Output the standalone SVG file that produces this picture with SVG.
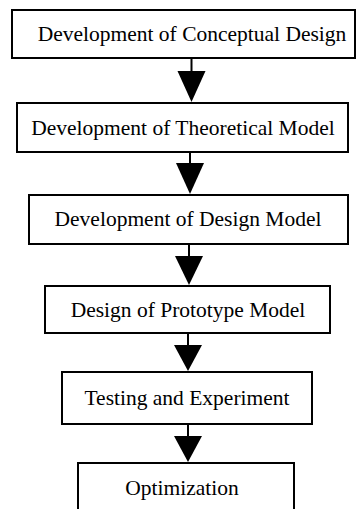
<svg xmlns="http://www.w3.org/2000/svg" width="362" height="509" viewBox="0 0 362 509">
  <style>
    .box { fill: #ffffff; stroke: #000000; stroke-width: 2; }
    .label { font-size: 21.5px; fill: #000000; text-anchor: middle; }
    .stem { stroke: #000000; stroke-width: 2; fill: none; }
    .head { fill: #000000; stroke: none; }
  </style>
  <rect x="0" y="0" width="362" height="509" fill="#ffffff"/>

  <g id="connectors">
    <line class="stem" x1="191.5" y1="58" x2="191.5" y2="72"/>
    <polygon class="head" points="177.5,71 205.5,71 191.5,102"/>
    <line class="stem" x1="190" y1="152" x2="190" y2="164"/>
    <polygon class="head" points="176,163 204,163 190,194"/>
    <line class="stem" x1="189" y1="244" x2="189" y2="257"/>
    <polygon class="head" points="175,256 203,256 189,285"/>
    <line class="stem" x1="188" y1="333" x2="188" y2="346"/>
    <polygon class="head" points="174,345 202,345 188,371"/>
    <line class="stem" x1="188" y1="424" x2="188" y2="437"/>
    <polygon class="head" points="174,436 202,436 188,462"/>
  </g>

  <g font-family="Liberation Serif, Times New Roman, serif">
    <g id="node-conceptual-design">
      <rect class="box" x="12" y="10" width="343" height="48"/>
      <text class="label" x="192" y="41">Development of Conceptual Design</text>
    </g>
    <g id="node-theoretical-model">
      <rect class="box" x="17" y="103" width="331" height="49"/>
      <text class="label" x="183" y="135">Development of Theoretical Model</text>
    </g>
    <g id="node-design-model">
      <rect class="box" x="29" y="195" width="319" height="49"/>
      <text class="label" x="188" y="226">Development of Design Model</text>
    </g>
    <g id="node-prototype-model">
      <rect class="box" x="45" y="286" width="285" height="47"/>
      <text class="label" x="188" y="317">Design of Prototype Model</text>
    </g>
    <g id="node-testing">
      <rect class="box" x="62" y="372" width="250" height="52"/>
      <text class="label" x="187" y="405">Testing and Experiment</text>
    </g>
    <g id="node-optimization">
      <rect class="box" x="78" y="463" width="216" height="60"/>
      <text class="label" x="182" y="495">Optimization</text>
    </g>
  </g>
</svg>
